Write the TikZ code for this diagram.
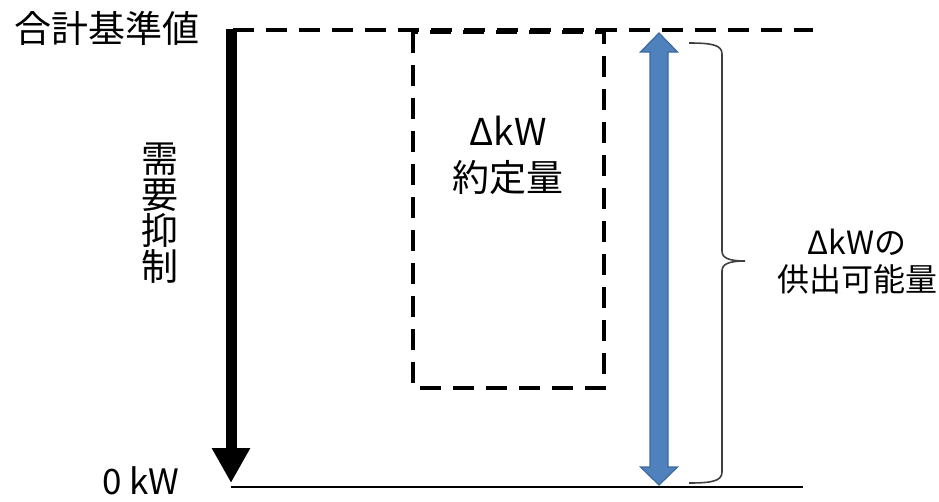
\documentclass[tikz,border=0pt]{standalone}
\usepackage{fontspec}
\setmainfont{Noto Sans CJK JP}
\usetikzlibrary{arrows.meta}
\definecolor{kwblue}{HTML}{4F81BD}
\definecolor{kwedge}{HTML}{3A6A9E}
\definecolor{bracegray}{HTML}{404040}

\begin{document}
\begin{tikzpicture}[x=1pt,y=-1pt]
\tikzstyle{every node}+=[inner sep=0pt]
\tikzstyle{bigtext}=[font=\fontsize{37}{46}\selectfont, align=center]
\tikzstyle{sidetext}=[font=\fontsize{37}{36}\selectfont, align=center]
\tikzstyle{smalltext}=[font=\fontsize{32}{37}\selectfont, align=center]
\tikzstyle{dashline}=[black, line width=4pt, dash pattern=on 21pt off 12pt]
\useasboundingbox (0,0) rectangle (939,501);
% levels
\coordinate (base) at (233,30);
\coordinate (baseend) at (813,30);
\coordinate (zero) at (231,487);
\coordinate (zeroend) at (803,487);
\draw [dashline] (base) -- (baseend);
\draw [black, line width=1.5pt] (zero) -- (zeroend);
\draw (106.5,28) node [bigtext] (baselabel) {合計基準値};
\draw (141,481) node [font=\fontsize{35}{42}\selectfont] (zerolabel) {0 kW};
% demand reduction
\coordinate (cuttop) at (231,29);
\coordinate (cutend) at (231,483);
\draw [black, line width=11pt, -{Triangle[width=36pt,length=35pt]}] (cuttop) -- (cutend);
\draw (160,213) node [sidetext] (cutlabel) {需\\要\\抑\\制};
% contracted amount
\draw [dashline] (413,32) rectangle (604,388);
\draw (508,155.5) node [bigtext] (contract) {ΔkW\\約定量};
% supply capacity
\fill [kwblue, draw=kwedge, line width=1.2pt] (659,33) -- (677.5,52) -- (668,52) -- (668,467) -- (677.5,467)
  -- (659,485) -- (640.5,467) -- (650,467) -- (650,52) -- (640.5,52) -- cycle;
\draw [bracegray, line width=1.6pt] (689,43) .. controls (712,43) and (722,45) .. (722,54) -- (722,251)
  .. controls (722,258) and (729,261) .. (745,261) .. controls (729,261) and (722,264) .. (722,271)
  -- (722,472) .. controls (722,481) and (712,483) .. (689,483);
\draw (857,262) node [smalltext] (supply) {ΔkWの\\供出可能量};
\end{tikzpicture}
\end{document}
